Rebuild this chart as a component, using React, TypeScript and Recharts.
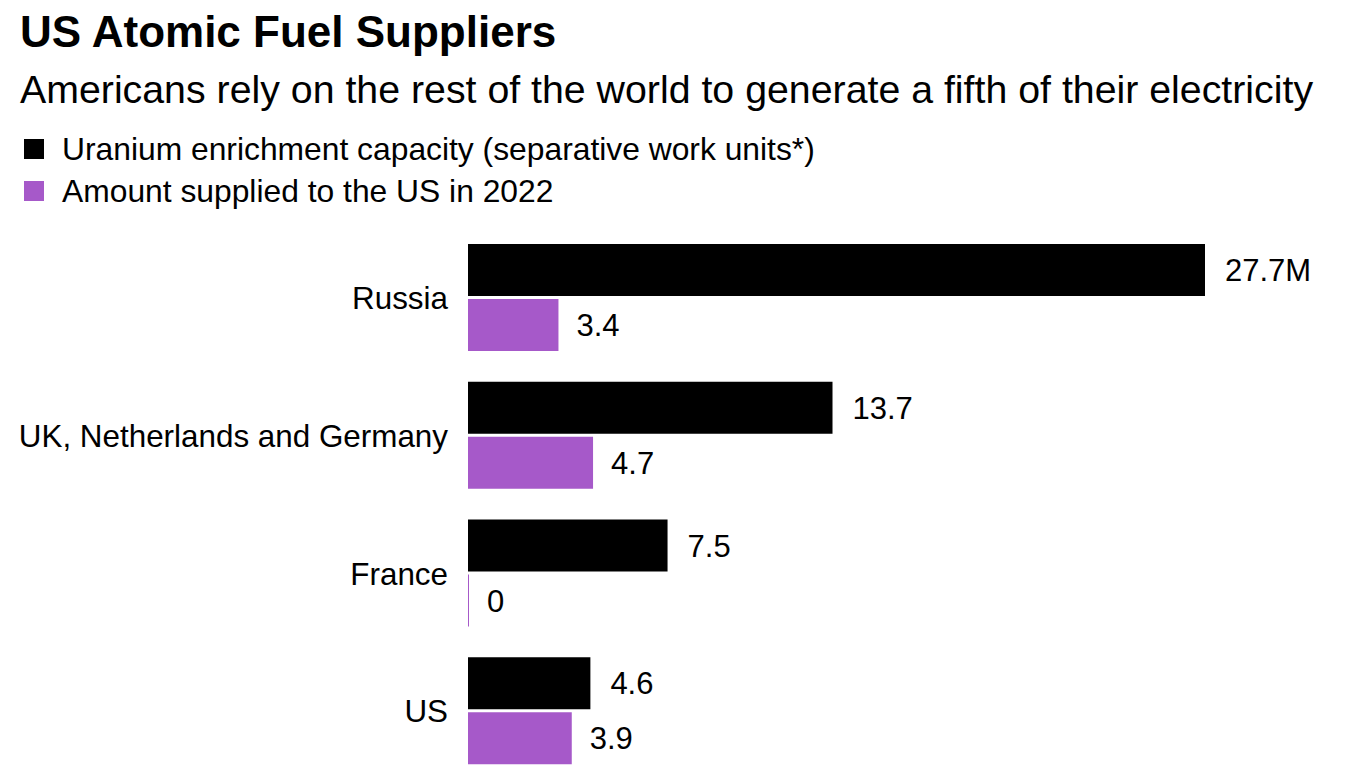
import React from 'react';
import { BarChart, Bar, XAxis, YAxis, LabelList } from 'recharts';

// values (millions of SWU)
const countries = ['Russia', 'UK, Netherlands and Germany', 'France', 'US'];
const capacity = [27.7, 13.7, 7.5, 4.6];
const supplied = [3.4, 4.7, 0, 3.9];
const capacityLabels = ['27.7M', '13.7', '7.5', '4.6'];

const data = countries.map((name, i) => ({
  name,
  capacity: capacity[i],
  supplied: supplied[i],
  capacityLabel: capacityLabels[i],
}));

const PURPLE = '#a659c9';
const FONT = '"Liberation Sans", Arial, Helvetica, sans-serif';

const legend = [
  { label: 'Uranium enrichment capacity (separative work units*)', color: '#000000', top: 133 },
  { label: 'Amount supplied to the US in 2022', color: PURPLE, top: 175 },
];

export default function App() {
  return (
    <div
      style={{
        position: 'absolute',
        top: 0,
        left: 0,
        width: 1348,
        height: 780,
        background: '#fff',
        fontFamily: FONT,
        color: '#000',
        overflow: 'hidden',
      }}
    >
      <div style={{ position: 'absolute', left: 20, top: 10, fontSize: 44, lineHeight: '44px', fontWeight: 700 }}>
        US Atomic Fuel Suppliers
      </div>
      <div style={{ position: 'absolute', left: 20, top: 70, fontSize: 39.3, lineHeight: '39px', whiteSpace: 'nowrap' }}>
        Americans rely on the rest of the world to generate a fifth of their electricity
      </div>
      {legend.map((item) => (
        <div key={item.label} style={{ position: 'absolute', left: 24, top: item.top, height: 32 }}>
          <span
            style={{
              position: 'absolute',
              left: 0,
              top: 6,
              width: 20,
              height: 20,
              background: item.color,
            }}
          />
          <span
            style={{
              position: 'absolute',
              left: 38,
              top: 0,
              fontSize: 31.8,
              lineHeight: '32px',
              whiteSpace: 'nowrap',
            }}
          >
            {item.label}
          </span>
        </div>
      ))}

      <div style={{ position: 'absolute', left: 0, top: 0 }}>
        <BarChart
          width={1348}
          height={780}
          data={data}
          layout="vertical"
          barSize={52}
          barGap={3}
          margin={{ top: 229, right: 143, bottom: 0, left: 0 }}
          style={{ fontFamily: FONT }}
        >
          <XAxis type="number" domain={[0, 27.7]} hide />
          <YAxis
            type="category"
            dataKey="name"
            width={468}
            axisLine={false}
            tickLine={false}
            tickSize={0}
            tickMargin={20}
            tick={{ fill: '#000', fontSize: 31.4 }}
          />
          <Bar dataKey="capacity" fill="#000" isAnimationActive={false}>
            <LabelList dataKey="capacityLabel" position="right" offset={20} fill="#000" fontSize={31} />
          </Bar>
          <Bar dataKey="supplied" fill={PURPLE} minPointSize={1} isAnimationActive={false}>
            <LabelList dataKey="supplied" position="right" offset={18} fill="#000" fontSize={31} />
          </Bar>
        </BarChart>
      </div>
    </div>
  );
}
